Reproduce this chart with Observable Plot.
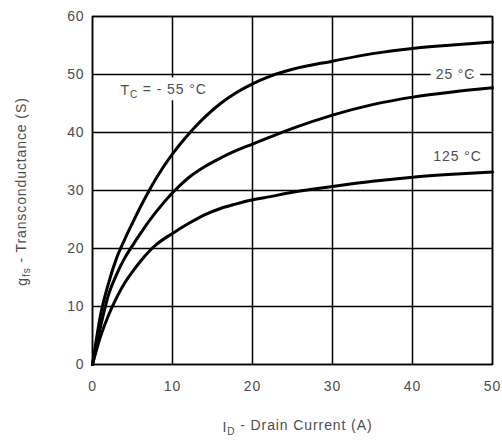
<!DOCTYPE html>
<html>
<head>
<meta charset="utf-8">
<script src="https://cdn.jsdelivr.net/npm/d3@7"></script>
<script src="https://cdn.jsdelivr.net/npm/@observablehq/plot@0.6"></script>
<style>
  html, body { margin: 0; padding: 0; background: #fff; }
  svg { display: block; }
  svg text { letter-spacing: 0.9px; }
</style>
</head>
<body>
<div id="chart"></div>
<script>
// Drain current (A)
const current = [0, 1, 2, 3, 4, 5, 6, 7, 8, 10, 12, 14, 16, 18, 20, 22, 25, 30, 35, 40, 45, 50];
// Transconductance (S) per case temperature
const gfsMinus55 = [0, 8.5, 14, 18.3, 21.5, 24.4, 27.2, 29.8, 32.2, 36.3, 39.7, 42.6, 45, 46.9, 48.4, 49.6, 50.9, 52.3, 53.6, 54.5, 55.1, 55.6];
const gfs25      = [0, 6.5, 12, 15.5, 18.3, 20.5, 22.6, 24.6, 26.4, 29.6, 32.2, 34.1, 35.6, 36.9, 38.0, 39.1, 40.7, 43.0, 44.8, 46.1, 47.0, 47.7];
const gfs125     = [0, 4.8, 8.5, 11.5, 14, 16, 17.8, 19.4, 20.7, 22.6, 24.3, 25.8, 26.9, 27.7, 28.4, 28.9, 29.7, 30.7, 31.6, 32.3, 32.8, 33.2];
const seriesNames = ["-55", "25", "125"];
const seriesValues = [gfsMinus55, gfs25, gfs125];

const xTicks = [0, 10, 20, 30, 40, 50];
const yTicks = [0, 10, 20, 30, 40, 50, 60];

const labelText = ["TC = - 55 °C", "25 °C", "125 °C"];
const labelX = [3.5, 42.9, 42.6];
const labelY = [47.2, 50, 35.9];

const xTitle = "ID - Drain Current (A)";
const yTitle = "gfs - Transconductance (S)";

const rows = [];
seriesNames.forEach((s, i) => current.forEach((x, j) => rows.push({series: s, x, y: seriesValues[i][j]})));
const labels = labelText.map((t, i) => ({t, x: labelX[i], y: labelY[i]}));

const textColor = "#4d4d4d";

const plot = Plot.plot({
  width: 502,
  height: 441,
  marginLeft: 92,
  marginRight: 10,
  marginTop: 16,
  marginBottom: 77,
  style: {fontFamily: "'Liberation Sans', Arial, sans-serif", fontSize: "14px", color: textColor, background: "#fff"},
  x: {domain: [0, 50], ticks: xTicks, tickSize: 0, tickPadding: 17, label: null},
  y: {domain: [0, 60], ticks: yTicks, tickSize: 0, tickPadding: 8, label: null},
  marks: [
    Plot.ruleX(xTicks, {stroke: "#000", strokeWidth: 1.5}),
    Plot.ruleY(yTicks, {stroke: "#000", strokeWidth: 1.5}),
    Plot.frame({stroke: "#000", strokeWidth: 1.5}),
    Plot.line(rows, {x: "x", y: "y", z: "series", curve: "monotone-x", stroke: "#000", strokeWidth: 3}),
    Plot.text(labels, {x: "x", y: "y", text: "t", textAnchor: "start", fill: "#fff", stroke: "#fff", strokeWidth: 13, strokeLinejoin: "round", fontSize: 14}),
    Plot.text(labels, {x: "x", y: "y", text: "t", textAnchor: "start", fill: textColor, fontSize: 14}),
    Plot.text([yTitle], {frameAnchor: "left", textAnchor: "middle", dx: -70, dy: 1, rotate: -90, fill: textColor, fontSize: 14}),
    Plot.text([xTitle], {frameAnchor: "bottom", textAnchor: "middle", dy: 67, dx: 5, fill: textColor, fontSize: 14})
  ]
});

document.getElementById("chart").appendChild(plot);

// Subscripts
const svg = d3.select(plot);
function subscript(full, main, sub, rest, size) {
  svg.selectAll("text").filter(function() { return this.textContent === full; }).each(function() {
    const t = d3.select(this);
    t.text(null);
    t.append("tspan").text(main);
    t.append("tspan").attr("dy", "0.3em").attr("font-size", size).text(sub);
    t.append("tspan").attr("dy", "-0.3em").text(rest);
  });
}
subscript(labelText[0], "T", "C", " = - 55 °C", "10px");
subscript(xTitle, "I", "D", " - Drain Current (A)", "10px");
subscript(yTitle, "g", "fs", " - Transconductance (S)", "10px");
</script>
</body>
</html>
